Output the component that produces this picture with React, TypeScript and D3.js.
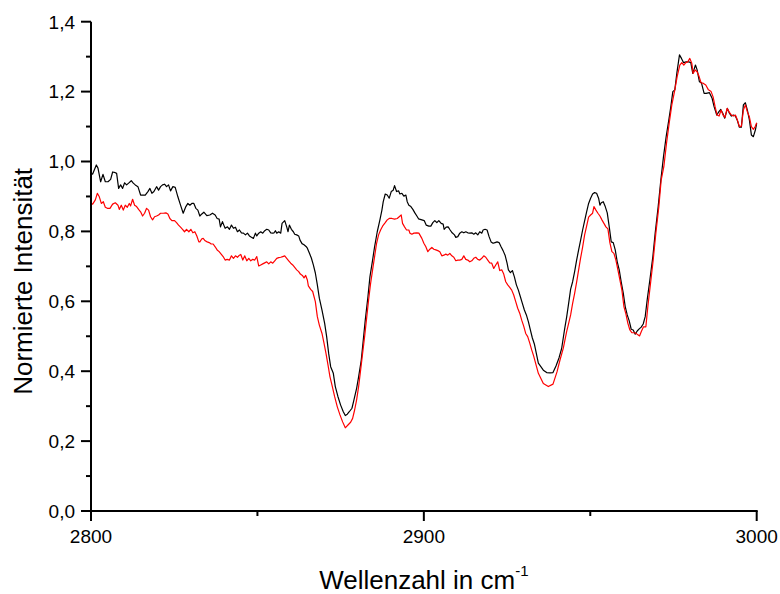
import React from "react";
import * as d3 from "d3";

const blackSpectrum: [number, number][] = [
  [2800.0,0.966],[2800.5,0.964],[2801.6,0.990],[2802.1,0.981],[2802.9,0.942],[2803.6,0.963],[2804.3,0.942],[2805.1,0.942],[2805.9,0.949],[2806.5,0.970],[2807.3,0.968],[2807.7,0.966],[2808.3,0.923],[2808.9,0.933],[2809.5,0.923],[2810.1,0.939],[2810.7,0.933],[2811.3,0.938],[2812.1,0.945],[2812.7,0.938],[2813.3,0.933],[2814.1,0.928],[2814.9,0.904],[2815.7,0.904],[2816.3,0.904],[2817.1,0.914],[2817.7,0.923],[2818.3,0.909],[2818.9,0.914],[2819.7,0.928],[2820.3,0.918],[2820.9,0.928],[2821.5,0.933],[2822.1,0.935],[2822.7,0.928],[2823.3,0.933],[2823.9,0.916],[2824.6,0.928],[2825.3,0.926],[2826.1,0.899],[2826.9,0.875],[2827.7,0.852],[2828.5,0.871],[2829.1,0.880],[2829.7,0.875],[2830.3,0.880],[2830.9,0.880],[2831.5,0.866],[2832.1,0.861],[2832.7,0.844],[2833.3,0.850],[2833.9,0.855],[2834.8,0.845],[2835.7,0.847],[2836.5,0.852],[2837.3,0.847],[2837.9,0.837],[2838.5,0.835],[2838.9,0.813],[2839.5,0.828],[2839.9,0.818],[2840.3,0.809],[2841.0,0.813],[2841.6,0.806],[2842.2,0.818],[2842.8,0.809],[2843.4,0.812],[2844.0,0.799],[2844.6,0.804],[2845.2,0.796],[2845.8,0.795],[2846.4,0.790],[2847.0,0.795],[2847.6,0.787],[2848.2,0.783],[2848.8,0.780],[2849.4,0.795],[2849.8,0.787],[2850.4,0.795],[2851.0,0.799],[2851.6,0.795],[2852.2,0.802],[2852.8,0.806],[2853.4,0.804],[2854.0,0.796],[2854.6,0.795],[2855.0,0.796],[2855.4,0.802],[2855.8,0.795],[2856.4,0.799],[2857.0,0.795],[2857.4,0.823],[2858.2,0.831],[2858.8,0.813],[2859.2,0.799],[2859.6,0.818],[2860.2,0.806],[2860.8,0.799],[2861.2,0.792],[2861.8,0.790],[2862.4,0.787],[2862.8,0.775],[2863.4,0.765],[2864.0,0.762],[2864.6,0.757],[2865.0,0.752],[2865.6,0.738],[2866.2,0.724],[2866.8,0.704],[2867.4,0.681],[2868.0,0.647],[2868.6,0.609],[2869.4,0.575],[2870.2,0.537],[2870.8,0.499],[2871.4,0.451],[2872.0,0.413],[2872.8,0.394],[2873.4,0.356],[2874.2,0.327],[2875.0,0.303],[2875.8,0.284],[2876.4,0.273],[2877.0,0.277],[2877.6,0.284],[2878.4,0.294],[2879.0,0.318],[2879.8,0.351],[2880.4,0.384],[2881.2,0.432],[2881.8,0.489],[2882.4,0.546],[2883.2,0.613],[2883.8,0.670],[2884.6,0.718],[2885.2,0.756],[2886.0,0.799],[2886.8,0.833],[2887.4,0.861],[2887.8,0.885],[2888.4,0.907],[2889.0,0.904],[2889.6,0.895],[2890.2,0.914],[2890.8,0.918],[2891.2,0.931],[2891.8,0.914],[2892.4,0.916],[2892.8,0.907],[2893.4,0.909],[2894.0,0.901],[2894.6,0.904],[2895.0,0.885],[2895.5,0.875],[2896.1,0.871],[2896.7,0.863],[2897.3,0.853],[2897.9,0.844],[2898.4,0.836],[2899.4,0.833],[2900.1,0.831],[2900.7,0.818],[2901.5,0.815],[2902.1,0.815],[2902.7,0.825],[2903.3,0.831],[2903.9,0.825],[2904.5,0.831],[2905.2,0.823],[2905.8,0.821],[2906.1,0.806],[2906.7,0.812],[2907.3,0.813],[2907.9,0.804],[2908.5,0.796],[2909.2,0.790],[2909.6,0.783],[2910.2,0.785],[2910.8,0.795],[2911.4,0.799],[2912.0,0.796],[2912.6,0.799],[2913.2,0.796],[2913.8,0.795],[2914.4,0.796],[2915.0,0.792],[2915.6,0.796],[2916.2,0.790],[2916.8,0.799],[2917.4,0.795],[2917.8,0.804],[2918.4,0.806],[2919.0,0.804],[2919.6,0.785],[2920.2,0.770],[2920.8,0.766],[2921.4,0.768],[2922.0,0.770],[2922.6,0.768],[2923.2,0.756],[2923.8,0.745],[2924.4,0.732],[2925.0,0.709],[2925.4,0.690],[2926.0,0.682],[2926.6,0.688],[2927.2,0.670],[2927.8,0.647],[2928.4,0.632],[2929.0,0.613],[2929.6,0.594],[2930.2,0.575],[2930.8,0.561],[2931.4,0.542],[2932.0,0.518],[2932.6,0.495],[2933.2,0.478],[2934.4,0.423],[2935.9,0.403],[2936.9,0.396],[2937.9,0.395],[2938.8,0.396],[2939.7,0.415],[2940.6,0.438],[2941.4,0.465],[2942.3,0.521],[2942.9,0.555],[2943.5,0.594],[2944.1,0.635],[2944.7,0.656],[2945.3,0.685],[2945.9,0.718],[2946.5,0.747],[2947.1,0.775],[2947.7,0.804],[2948.3,0.830],[2948.9,0.856],[2949.5,0.880],[2950.1,0.895],[2950.7,0.907],[2951.3,0.911],[2951.9,0.909],[2952.5,0.895],[2952.9,0.875],[2953.3,0.882],[2953.9,0.885],[2954.5,0.871],[2955.1,0.853],[2955.7,0.813],[2956.3,0.770],[2956.9,0.768],[2957.5,0.747],[2958.1,0.713],[2958.7,0.690],[2959.3,0.655],[2959.9,0.624],[2960.5,0.585],[2961.1,0.561],[2961.7,0.544],[2962.3,0.520],[2962.9,0.518],[2963.5,0.506],[2964.1,0.515],[2964.7,0.521],[2965.3,0.526],[2965.9,0.535],[2966.5,0.556],[2967.1,0.604],[2967.9,0.661],[2968.8,0.728],[2969.5,0.795],[2970.4,0.871],[2971.2,0.947],[2972.0,1.014],[2972.8,1.071],[2973.6,1.119],[2974.2,1.157],[2974.8,1.200],[2975.4,1.205],[2976.0,1.252],[2976.8,1.305],[2977.4,1.295],[2978.0,1.283],[2978.8,1.285],[2979.6,1.285],[2980.2,1.283],[2980.8,1.252],[2981.6,1.276],[2982.1,1.262],[2982.8,1.228],[2983.4,1.225],[2984.2,1.195],[2984.8,1.195],[2985.8,1.197],[2986.6,1.181],[2987.2,1.157],[2988.0,1.133],[2988.6,1.142],[2989.2,1.149],[2989.8,1.138],[2990.4,1.124],[2991.2,1.152],[2991.8,1.138],[2992.4,1.130],[2993.0,1.133],[2993.6,1.130],[2994.2,1.117],[2994.8,1.098],[2995.4,1.098],[2996.0,1.162],[2996.6,1.168],[2997.2,1.147],[2997.8,1.119],[2998.4,1.076],[2999.0,1.071],[2999.6,1.090],[3000.0,1.109]
];

const redSpectrum: [number, number][] = [
  [2800.0,0.880],[2800.5,0.878],[2801.3,0.890],[2801.9,0.909],[2802.5,0.899],[2803.1,0.880],[2803.7,0.885],[2804.3,0.869],[2804.9,0.866],[2805.7,0.866],[2806.5,0.878],[2807.3,0.882],[2808.1,0.875],[2808.5,0.863],[2809.1,0.875],[2809.7,0.861],[2810.3,0.875],[2810.9,0.869],[2811.5,0.880],[2811.9,0.873],[2812.5,0.892],[2813.1,0.875],[2813.7,0.871],[2814.3,0.863],[2814.9,0.856],[2815.5,0.844],[2816.1,0.852],[2816.7,0.866],[2817.3,0.861],[2817.9,0.842],[2818.5,0.833],[2819.1,0.842],[2819.7,0.844],[2820.3,0.847],[2820.9,0.852],[2821.7,0.852],[2822.5,0.853],[2823.1,0.850],[2823.7,0.837],[2824.3,0.831],[2825.1,0.831],[2825.7,0.825],[2826.3,0.818],[2826.9,0.812],[2827.5,0.806],[2828.1,0.799],[2828.7,0.806],[2829.4,0.799],[2830.0,0.806],[2830.6,0.796],[2831.2,0.799],[2831.8,0.787],[2832.4,0.770],[2832.7,0.770],[2833.3,0.779],[2833.7,0.780],[2834.3,0.773],[2834.9,0.770],[2835.5,0.768],[2836.1,0.764],[2836.7,0.764],[2837.3,0.756],[2837.9,0.747],[2838.5,0.742],[2839.1,0.735],[2839.7,0.728],[2840.3,0.718],[2840.9,0.720],[2841.6,0.718],[2842.2,0.730],[2842.8,0.723],[2843.4,0.730],[2844.0,0.726],[2844.6,0.732],[2845.0,0.734],[2845.6,0.718],[2846.2,0.730],[2846.8,0.716],[2847.4,0.723],[2848.0,0.716],[2848.6,0.720],[2849.2,0.718],[2849.8,0.728],[2850.4,0.701],[2851.0,0.704],[2851.6,0.707],[2852.2,0.710],[2852.8,0.713],[2853.4,0.707],[2854.0,0.713],[2854.6,0.709],[2855.2,0.716],[2855.8,0.723],[2856.4,0.725],[2857.0,0.726],[2857.6,0.728],[2858.2,0.730],[2858.8,0.723],[2859.4,0.716],[2860.0,0.709],[2860.6,0.704],[2861.2,0.697],[2861.8,0.690],[2862.4,0.685],[2862.9,0.678],[2863.5,0.674],[2864.0,0.667],[2864.5,0.674],[2865.0,0.661],[2865.3,0.644],[2866.0,0.634],[2866.6,0.628],[2867.4,0.599],[2868.0,0.556],[2868.6,0.532],[2869.4,0.508],[2870.0,0.480],[2870.6,0.451],[2871.2,0.418],[2871.8,0.384],[2872.4,0.360],[2873.2,0.327],[2874.0,0.298],[2874.8,0.275],[2875.6,0.255],[2876.4,0.238],[2877.2,0.246],[2878.0,0.254],[2878.6,0.265],[2879.2,0.289],[2879.8,0.318],[2880.4,0.356],[2881.0,0.403],[2881.6,0.451],[2882.2,0.499],[2882.8,0.551],[2883.4,0.604],[2884.0,0.651],[2884.6,0.690],[2885.2,0.728],[2885.8,0.766],[2886.4,0.790],[2887.0,0.804],[2887.6,0.815],[2888.4,0.825],[2889.0,0.833],[2889.6,0.837],[2890.4,0.837],[2891.2,0.835],[2892.0,0.837],[2892.6,0.842],[2893.2,0.847],[2893.6,0.823],[2894.2,0.813],[2894.8,0.804],[2895.5,0.804],[2895.8,0.795],[2896.4,0.792],[2897.0,0.795],[2897.9,0.796],[2898.5,0.795],[2899.4,0.780],[2900.0,0.766],[2900.6,0.756],[2901.2,0.742],[2901.8,0.749],[2902.4,0.754],[2903.0,0.749],[2903.6,0.747],[2904.2,0.745],[2904.8,0.742],[2905.4,0.730],[2906.0,0.732],[2906.6,0.735],[2907.2,0.732],[2907.8,0.737],[2908.4,0.730],[2909.0,0.726],[2909.6,0.716],[2910.2,0.718],[2910.8,0.718],[2911.4,0.720],[2912.0,0.730],[2912.6,0.720],[2913.2,0.718],[2913.8,0.713],[2914.4,0.716],[2915.0,0.723],[2915.6,0.726],[2916.2,0.720],[2916.8,0.718],[2917.4,0.723],[2918.0,0.730],[2918.6,0.726],[2919.2,0.718],[2919.8,0.710],[2920.4,0.709],[2921.0,0.694],[2921.6,0.704],[2922.2,0.713],[2922.8,0.688],[2923.4,0.690],[2924.0,0.678],[2924.6,0.656],[2925.2,0.647],[2925.8,0.640],[2926.4,0.632],[2927.0,0.618],[2927.6,0.599],[2928.2,0.580],[2928.8,0.566],[2929.4,0.546],[2930.0,0.529],[2930.6,0.508],[2931.2,0.499],[2931.8,0.481],[2932.4,0.461],[2933.0,0.443],[2934.4,0.394],[2935.9,0.365],[2937.4,0.356],[2938.8,0.363],[2940.0,0.398],[2940.9,0.432],[2941.9,0.466],[2942.9,0.513],[2943.5,0.537],[2944.1,0.561],[2944.7,0.594],[2945.3,0.623],[2945.9,0.655],[2946.5,0.690],[2947.1,0.724],[2947.7,0.755],[2948.3,0.790],[2948.9,0.815],[2949.5,0.841],[2950.1,0.847],[2950.7,0.852],[2951.1,0.871],[2951.7,0.861],[2952.3,0.852],[2952.9,0.844],[2953.5,0.833],[2954.1,0.823],[2954.7,0.813],[2955.3,0.807],[2955.9,0.767],[2956.5,0.742],[2957.1,0.737],[2957.7,0.718],[2958.3,0.690],[2958.9,0.661],[2959.5,0.632],[2960.1,0.585],[2960.7,0.564],[2961.3,0.537],[2961.9,0.518],[2962.5,0.510],[2963.1,0.510],[2963.7,0.509],[2964.3,0.504],[2964.8,0.501],[2965.4,0.515],[2966.0,0.527],[2966.7,0.527],[2967.3,0.585],[2968.1,0.651],[2968.9,0.718],[2969.7,0.795],[2970.6,0.871],[2971.3,0.947],[2972.1,0.985],[2972.9,1.052],[2973.7,1.109],[2974.5,1.162],[2975.4,1.205],[2976.1,1.243],[2976.9,1.276],[2977.5,1.283],[2978.1,1.276],[2978.7,1.283],[2979.3,1.285],[2979.9,1.295],[2980.5,1.281],[2980.9,1.252],[2981.5,1.262],[2982.1,1.257],[2982.7,1.243],[2983.3,1.225],[2983.9,1.224],[2984.7,1.219],[2985.5,1.205],[2986.3,1.200],[2986.9,1.185],[2987.5,1.157],[2988.1,1.133],[2988.7,1.130],[2989.3,1.147],[2989.9,1.133],[2990.5,1.126],[2991.1,1.152],[2991.7,1.142],[2992.4,1.133],[2993.0,1.130],[2993.6,1.133],[2994.2,1.119],[2994.8,1.100],[2995.4,1.101],[2996.0,1.147],[2996.6,1.162],[2997.2,1.142],[2997.8,1.128],[2998.4,1.100],[2999.0,1.092],[2999.6,1.101],[3000.0,1.111]
];

const xMajorTicks = [2800, 2900, 3000];
const xMinorTicks = [2850, 2950];
const yMajorTicks = [0, 0.2, 0.4, 0.6, 0.8, 1.0, 1.2, 1.4];
const yMinorTicks = [0.1, 0.3, 0.5, 0.7, 0.9, 1.1, 1.3];
const xTitle = "Wellenzahl in cm";
const xTitleSup = "-1";
const yTitle = "Normierte Intensität";
const seriesColors = ["#000000", "#ff0000"];

const W = 780;
const H = 594;
const FONT = "'Liberation Sans', Arial, Helvetica, sans-serif";

export default function App() {
  const x = d3.scaleLinear().domain([2800, 3000]).range([91, 756.7]);
  const y = d3.scaleLinear().domain([0, 1.4]).range([511, 21.7]);
  const line = d3
    .line<[number, number]>()
    .x((d) => x(d[0]))
    .y((d) => y(d[1]));
  const fmt = (v: number) => v.toFixed(1).replace(".", ",");
  const [x0, x1] = x.range();
  const [y0, y1] = y.range();

  return (
    <svg
      width={W}
      height={H}
      style={{ position: "absolute", left: 0, top: 0, background: "#fff" }}
      fontFamily={FONT}
    >
      <rect width={W} height={H} fill="#fff" />
      <path d={line(blackSpectrum) || ""} fill="none" stroke={seriesColors[0]} strokeWidth={1.2} strokeLinejoin="round" />
      <path d={line(redSpectrum) || ""} fill="none" stroke={seriesColors[1]} strokeWidth={1.2} strokeLinejoin="round" />

      <line x1={x0} x2={x0} y1={y1} y2={y0} stroke="#000" strokeWidth={2} />
      {yMajorTicks.map((t) => (
        <g key={"ym" + t}>
          <line x1={x0 - 10} x2={x0} y1={y(t)} y2={y(t)} stroke="#000" strokeWidth={2} />
          <text x={x0 - 16} y={y(t)} dy="0.36em" textAnchor="end" fontSize={19} fill="#000">
            {fmt(t)}
          </text>
        </g>
      ))}
      {yMinorTicks.map((t) => (
        <line key={"yn" + t} x1={x0 - 5} x2={x0} y1={y(t)} y2={y(t)} stroke="#000" strokeWidth={2} />
      ))}

      <line x1={x0 - 1} x2={x1 + 1} y1={y0} y2={y0} stroke="#000" strokeWidth={2} />
      {xMajorTicks.map((t) => (
        <g key={"xm" + t}>
          <line x1={x(t)} x2={x(t)} y1={y0} y2={y0 + 10} stroke="#000" strokeWidth={2} />
          <text x={x(t)} y={543} textAnchor="middle" fontSize={19} fill="#000">
            {t}
          </text>
        </g>
      ))}
      {xMinorTicks.map((t) => (
        <line key={"xn" + t} x1={x(t)} x2={x(t)} y1={y0} y2={y0 + 5} stroke="#000" strokeWidth={2} />
      ))}

      <text x={(x0 + x1) / 2} y={589} textAnchor="middle" fontSize={26} fill="#000">
        {xTitle}
        <tspan fontSize={15} dy={-13}>{xTitleSup}</tspan>
      </text>
      <text
        transform={`translate(31.5, ${(y0 + y1) / 2 + 15}) rotate(-90)`}
        textAnchor="middle"
        fontSize={26}
        fill="#000"
      >
        {yTitle}
      </text>
    </svg>
  );
}
